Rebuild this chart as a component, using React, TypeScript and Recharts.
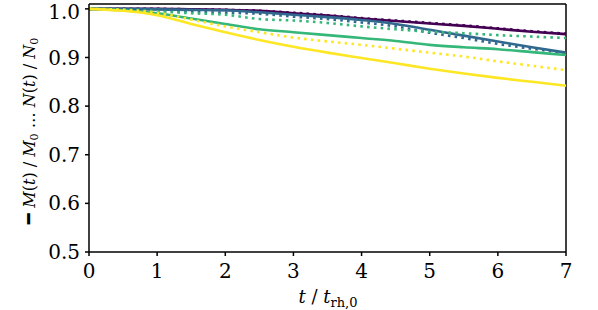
import { Line, LineChart, ReferenceLine, XAxis, YAxis } from 'recharts';

// time in initial half-mass relaxation times
const times = [0, 0.5, 1, 1.5, 2, 2.5, 3, 3.5, 4, 4.5, 5, 5.5, 6, 6.5, 7];

// solid lines: M(t)/M0, dotted lines: N(t)/N0
const purpleMass = [1.0, 1.0, 1.0, 0.999, 0.998, 0.996, 0.991, 0.986, 0.98, 0.975, 0.97, 0.965, 0.959, 0.953, 0.948];
const purpleNum = [1.0, 1.0, 1.0, 0.999, 0.998, 0.996, 0.992, 0.987, 0.981, 0.976, 0.971, 0.966, 0.96, 0.954, 0.949];
const blueMass = [1.0, 1.0, 0.999, 0.998, 0.997, 0.993, 0.988, 0.983, 0.977, 0.969, 0.957, 0.945, 0.933, 0.921, 0.91];
const blueNum = [1.0, 0.999, 0.996, 0.994, 0.992, 0.99, 0.984, 0.979, 0.972, 0.964, 0.951, 0.94, 0.928, 0.918, 0.909];
const greenMass = [1.0, 0.997, 0.991, 0.98, 0.969, 0.958, 0.952, 0.946, 0.94, 0.934, 0.926, 0.921, 0.917, 0.911, 0.905];
const greenNum = [1.0, 0.999, 0.995, 0.991, 0.988, 0.979, 0.976, 0.971, 0.964, 0.958, 0.953, 0.95, 0.946, 0.943, 0.94];
const yellowMass = [1.0, 0.996, 0.987, 0.969, 0.952, 0.936, 0.922, 0.91, 0.899, 0.888, 0.877, 0.867, 0.858, 0.85, 0.842];
const yellowNum = [1.0, 0.998, 0.992, 0.978, 0.964, 0.952, 0.941, 0.933, 0.926, 0.918, 0.91, 0.902, 0.892, 0.883, 0.874];

const xTicks = [0, 1, 2, 3, 4, 5, 6, 7];
const yTicks = [0.5, 0.6, 0.7, 0.8, 0.9, 1.0];

const rows = times.map((t, i) => ({
  t,
  purpleMass: purpleMass[i],
  purpleNum: purpleNum[i],
  blueMass: blueMass[i],
  blueNum: blueNum[i],
  greenMass: greenMass[i],
  greenNum: greenNum[i],
  yellowMass: yellowMass[i],
  yellowNum: yellowNum[i],
}));

const series = [
  { key: 'purple', color: '#440154' },
  { key: 'blue', color: '#31688e' },
  { key: 'green', color: '#35b779' },
  { key: 'yellow', color: '#fde725' },
];

const FONT = 'DejaVu Serif';

const XLabel = () => (
  <text x={328} y={303} textAnchor="middle" fontFamily={FONT} fontSize={18} fill="#000">
    <tspan fontStyle="italic">t</tspan>
    <tspan> / </tspan>
    <tspan fontStyle="italic">t</tspan>
    <tspan fontSize={13} dy={4}>rh,0</tspan>
  </text>
);

const YLabel = () => (
  <text
    transform="translate(35,131) rotate(-90)"
    textAnchor="middle"
    fontFamily={FONT}
    fontSize={16}
    fill="#000"
  >
    <tspan fontFamily="DejaVu Sans" fontSize={18}>━ </tspan>
    <tspan fontStyle="italic">M</tspan>
    <tspan>(</tspan>
    <tspan fontStyle="italic">t</tspan>
    <tspan>) / </tspan>
    <tspan fontStyle="italic">M</tspan>
    <tspan fontSize={11} dy={3}>0</tspan>
    <tspan dy={-3}>{'   … '}</tspan>
    <tspan fontStyle="italic">N</tspan>
    <tspan>(</tspan>
    <tspan fontStyle="italic">t</tspan>
    <tspan>) / </tspan>
    <tspan fontStyle="italic">N</tspan>
    <tspan fontSize={11} dy={3}>0</tspan>
  </text>
);

const axisStyle = { stroke: '#000', strokeWidth: 1.5 };
const tickStyle = { fill: '#000', fontSize: 20, fontFamily: FONT };

export default function App() {
  return (
    <div style={{ position: 'absolute', left: 0, top: 0, background: '#fff' }}>
      <LineChart
        width={598}
        height={310}
        data={rows}
        margin={{ top: 4, right: 32, bottom: 0, left: 0 }}
      >
        <XAxis
          dataKey="t"
          type="number"
          domain={[0, 7]}
          ticks={xTicks}
          height={58}
          tickSize={4}
          tickMargin={8}
          axisLine={axisStyle}
          tickLine={axisStyle}
          tick={tickStyle}
          label={<XLabel />}
        />
        <YAxis
          type="number"
          domain={[0.5, 1.01]}
          ticks={yTicks}
          width={89}
          tickSize={4}
          tickMargin={5}
          tickFormatter={(v: number) => v.toFixed(1)}
          axisLine={axisStyle}
          tickLine={axisStyle}
          tick={tickStyle}
          allowDataOverflow
          label={<YLabel />}
        />
        <ReferenceLine y={1.01} stroke="#000" strokeWidth={1.5} />
        <ReferenceLine x={7} stroke="#000" strokeWidth={1.5} />
        {series.flatMap((s) => [
          <Line
            key={s.key + 'Mass'}
            type="monotone"
            dataKey={s.key + 'Mass'}
            stroke={s.color}
            strokeWidth={2.6}
            dot={false}
            isAnimationActive={false}
          />,
          <Line
            key={s.key + 'Num'}
            type="monotone"
            dataKey={s.key + 'Num'}
            stroke={s.color}
            strokeWidth={2.6}
            strokeDasharray="2.6 4.2"
            dot={false}
            isAnimationActive={false}
          />,
        ])}
      </LineChart>
    </div>
  );
}
